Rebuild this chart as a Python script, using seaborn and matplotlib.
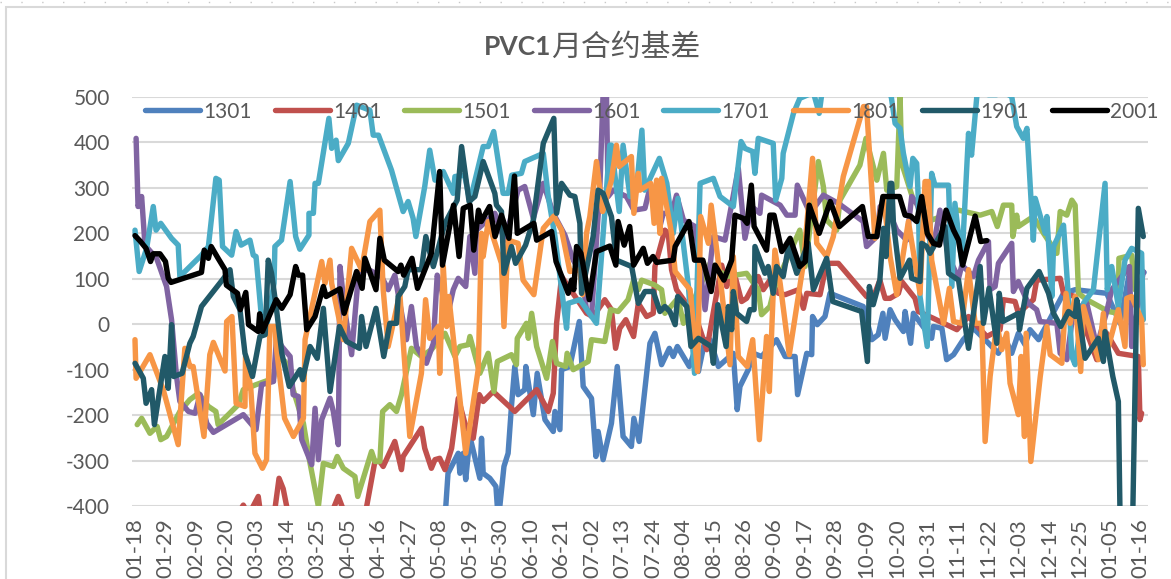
# %%
import pandas as pd
from matplotlib import pyplot as plt
from matplotlib.lines import Line2D
from matplotlib.patches import Rectangle
import seaborn as sns

# %% Data, (days since 01-18, basis)
tickLabels = ["01-18", "01-29", "02-09", "02-20", "03-03", "03-14", "03-25", "04-05", "04-16",
              "04-27", "05-08", "05-19", "05-30", "06-10", "06-21", "07-02", "07-13", "07-24",
              "08-04", "08-15", "08-26", "09-06", "09-17", "09-28", "10-09", "10-20", "10-31",
              "11-11", "11-22", "12-03", "12-14", "12-25", "01-05", "01-16"]
yTicks = [500, 400, 300, 200, 100, 0, -100, -200, -300, -400]

s1301 = [(110, -420), (112.2, -401), (113, -328), (116.7, -284), (117.3, -328), (118.5, -284), (119.4, -342),
         (120.9, -247), (124.5, -339), (125.1, -251), (125.7, -328), (128.1, -339), (130.3, -357), (130.8, -401),
         (131.7, -401), (133.2, -313), (134.7, -284), (135.9, -181), (137.1, -93), (138.3, -155), (140.7, -144),
         (141.1, -93), (143.8, -199), (145.2, -108), (148, -210), (151, -236), (151.6, -192), (153.4, -232),
         (154, -100), (157, -93), (160.4, 6), (161.8, -137), (164.8, -163), (166.4, -291), (167.2, -236),
         (169, -298), (172, -218), (174.1, -93), (176.2, -247), (179.2, -269), (180.1, -207), (182, -258),
         (185.9, -42), (187.7, -20), (190.1, -89), (192.9, -53), (194.3, -71), (195.8, -49), (200.1, -93),
         (201.6, -67), (203.4, -104), (205.8, -34), (207.6, -34), (210.6, -93), (216, -64), (217.4, -188),
         (218.4, -137), (221.4, -100), (223.2, -64), (226.2, -71), (231.6, -34), (234.7, -71), (238.3, -71),
         (239.2, -155), (242.5, -64), (244.3, -67), (244.6, 17), (246.3, -1), (249.1, 17), (250.9, 68),
         (262.9, 39), (266, -34), (268.3, -23), (270, 24), (270.8, -31), (272.6, 32), (274.4, 10), (277.4, -16),
         (278, 28), (280, -42), (281, 24), (287.6, -31), (288.2, -5), (291.3, -9), (293, -78), (295.5, -67),
         (299, -34), (302.7, -9), (307.5, -38), (311.7, -64), (314.1, -31), (316.5, -64), (318.9, -20),
         (321.3, -45), (323.1, -12), (326.2, -34), (329.2, -1), (335.2, 68), (339.4, 76), (350.8, 68),
         (355.6, 2), (359.2, 120), (364.3, 114)]

s1401 = [(28, -460), (36, -430), (39.1, -398), (41, -420), (44.5, -379), (45.4, -420), (50, -430), (52, -339),
         (53.5, -362), (54.9, -405), (60, -440), (70, -430), (73.4, -379), (75, -405), (80, -440), (83.6, -402),
         (86.6, -302), (88.4, -302), (89.6, -313), (93.8, -258), (96.2, -320), (96.8, -291), (103.4, -229),
         (104.6, -273), (107, -317), (108.3, -298), (110, -295), (111.9, -320), (114.3, -273), (116.7, -163),
         (119.1, -218), (122.1, -251), (124.3, -155), (125.7, -170), (129.3, -148), (137.1, -192), (145, -144),
         (149.2, -192), (151, -152), (152.2, 2), (154, 105), (163, 24), (165.4, 17), (169.6, 54), (172, 32),
         (173.5, -53), (175, -9), (177.2, 10), (180, -27), (181.7, 46), (184.7, 17), (187.1, 24), (187.7, 127),
         (191.3, 207), (192.5, 200), (193.7, 120), (195.5, 76), (199.8, 39), (202.8, 10), (206.4, -56),
         (211.8, 130), (213.6, 83), (216, 120), (219, 50), (220.8, 57), (225, 105), (226.8, 76), (229.2, 97),
         (232.3, 68), (234.7, 65), (239.5, 76), (241.3, 35), (242.5, 68), (247.3, 65), (249.7, 134), (253.9, 134),
         (264.1, 61), (267.1, 68), (268.9, 97), (270.8, 57), (272.6, 57), (275.6, 68), (276.8, 94), (281.6, 57),
         (282.8, 28), (288.2, 13), (296.7, -12), (300.9, 17), (307.5, -27), (312.3, -12), (313.5, 54), (317.7, 50),
         (318.9, 24), (324.3, 54), (325.5, 97), (334, 101), (335.2, 68), (339.4, 61), (342.4, 2), (347.2, -78),
         (350.8, -20), (355, -64), (362.2, -71), (362.8, -210), (363.4, -196)]

s1501 = [(0.8, -221), (2.4, -207), (5.4, -240), (8, -225), (9.3, -254), (11.4, -247), (16.2, -192), (19.8, -166),
         (22.9, -152), (26.5, -181), (29.2, -192), (30, -221), (33.7, -199), (37.3, -177), (39.1, -144), (43.7, -133),
         (50, -119), (51.1, -71), (54.2, -82), (57.1, -144), (60.8, -218), (63.2, -306), (66.2, -401), (68, -306),
         (71.6, -313), (73, -291), (75.2, -317), (79.4, -335), (80.4, -379), (85.4, -280), (86.6, -302), (88.4, -302),
         (89.4, -192), (92, -177), (94.4, -192), (96.2, -155), (99.8, -53), (103.4, -71), (107, -56), (111.9, -20),
         (115.5, -71), (117.3, -49), (120.3, -45), (120.9, -27), (124.5, -108), (127.5, -64), (129.6, -148),
         (130.8, -82), (135.9, -67), (137.7, -89), (138, -31), (141.3, 2), (142, -31), (143.2, 24), (145, -49),
         (148.6, -119), (150.7, -38), (152.2, -86), (155.5, -93), (156, -64), (158.2, -100), (163.6, -82),
         (164.8, -34), (169.6, -38), (171.7, 32), (174.4, 28), (178, 54), (180, 97), (181.7, 76), (182.9, 97),
         (187.4, 87), (190.1, 76), (191.3, 24), (196, 57), (198, 2), (207.6, 134), (213.6, 105), (220.8, 112),
         (225, 76), (226.2, 21), (229.2, 39), (231, 83), (240, 207), (241.9, 127), (246.7, 358), (248.5, 303),
         (249.7, 229), (253.3, 207), (254.5, 273), (261.7, 350), (263.9, 409), (267.8, 317), (270.2, 376),
         (271.4, 295), (275, 303), (276.2, 501), (276.8, 354), (281, 273), (288, 230), (297.3, 251), (305.1, 240),
         (309.3, 248), (311.3, 215), (313.5, 262), (316.5, 262), (316.9, 193), (318.3, 240), (318.9, 215),
         (324.3, 237), (328, 200), (332.8, 156), (334, 248), (336.4, 240), (338.2, 273), (339.4, 262), (340.6, 68),
         (343.6, 54), (351.4, 28), (355, 24), (355.2, 145), (359.8, 152), (361, 76)]

s1601 = [(0.4, 409), (1.1, 259), (2.4, 281), (3.6, 174), (7.8, 145), (11.4, 83), (13.2, 10), (15, -115), (16.2, -170),
         (19.3, -192), (21.7, -196), (23.5, -155), (25.9, -218), (28.3, -238), (39.1, -199), (43.7, -232),
         (45.7, -133), (50, -126), (51.1, -27), (53, -49), (56, -71), (57.1, -155), (59, -159), (60.2, -254),
         (63.8, -309), (65, -185), (66.2, -298), (67.4, -210), (70.4, -163), (71.6, -192), (73.4, -265), (74, 127),
         (75.8, 28), (78.2, -67), (80.6, 105), (81.8, 116), (84.3, 120), (89, 105), (91.4, 76), (93.8, 108),
         (95.6, 46), (98, -34), (99.8, 39), (101.6, -49), (105.2, -86), (107.7, -42), (109.1, 108), (110.7, 76),
         (112.5, 10), (114.9, 76), (116.7, 101), (119.4, 83), (120.9, 193), (122.7, 112), (123.3, 207), (129.9, 244),
         (133.5, 185), (138.3, 295), (140.7, 303), (143.8, 233), (147.4, 310), (151, 244), (155.2, 196), (158.2, 141),
         (161.2, 112), (163, 32), (164.8, 17), (167.8, 295), (169, 510), (170.2, 510), (170.8, 281), (172.6, 295),
         (177.4, 281), (180.1, 251), (184.1, 255), (186, 303), (189.5, 215), (190.7, 244), (193.7, 244), (195.5, 284),
         (198, 229), (202.2, 215), (205.8, 32), (208.8, 193), (213, 185), (217.8, 343), (220.2, 189), (222.6, 259),
         (225.6, 244), (226.2, 284), (232.9, 262), (235.3, 240), (238.3, 240), (239.1, 306), (243.7, 244),
         (248.5, 284), (253.9, 266), (262.9, 226), (264.1, 171), (267.8, 193), (269, 259), (271.4, 259), (275, 207),
         (278.6, 185), (280.4, 281), (282.2, 266), (285.8, 200), (288.2, 171), (290.6, 251), (293.7, 149),
         (297.3, 101), (298.5, 130), (302.7, 105), (304.5, 141), (308.1, 182), (308.7, 76), (310.5, 83), (311.7, 134),
         (316.5, 178), (317.1, 72), (318.9, 94), (322.5, 46), (325.5, 32), (326.7, 6), (332.8, 2), (334, -64),
         (336.4, -78), (338.8, 32), (343.6, 46), (347.2, -49), (350.8, 28), (352.6, 76), (359, 127), (359.8, -49),
         (364, 116)]

s1701 = [(0, 207), (1.5, 116), (4.2, 167), (6.6, 259), (7.6, 207), (9.3, 222), (13.2, 189), (15.6, 174), (16.2, 105),
         (24, 152), (26.5, 171), (29.2, 321), (30.4, 317), (31.6, 171), (34.9, 152), (36.5, 204), (38.3, 174),
         (41.5, 185), (42.7, 152), (43.7, 149), (45.4, 32), (47.3, -12), (50.2, 90), (50.5, 171), (52.9, 185),
         (56, 314), (58, 193), (59.5, 165), (62.8, 196), (62.8, 244), (64.4, 244), (65, 310), (66.2, 310), (70, 453),
         (71, 387), (72.6, 405), (73.4, 360), (77, 398), (80, 482), (84.8, 471), (86, 416), (87.9, 416), (92.6, 339),
         (96.8, 248), (98.6, 270), (100.4, 233), (101.4, 193), (104.6, 303), (106.4, 383), (108.3, 317), (111.3, 336),
         (114.9, 288), (115.5, 325), (119, 328), (120.9, 270), (125.7, 391), (127.5, 391), (129.5, 424), (132.9, 288),
         (134.7, 288), (136, 328), (139.5, 332), (140.7, 358), (147.4, 376), (149.2, 281), (151.6, 193), (155.8, -9),
         (156.4, 46), (160.6, 54), (166.6, 2), (171.4, 394), (172, 394), (174.8, 248), (176.2, 394), (178.7, 281),
         (181, 295), (183, 427), (184, 295), (189.3, 365), (192, 310), (194.3, 200), (196, 277), (199.8, 83),
         (202, -108), (204, 310), (208.8, 321), (211.2, 281), (216, 259), (218.8, 402), (220.2, 387), (223, 380),
         (223.8, 332), (225, 409), (230.4, 398), (231.3, 273), (233.5, 321), (234, 376), (237.7, 464), (240, 497),
         (244.9, 510), (247, 464), (248, 510), (250, 520), (268, 540), (273, 501), (274.4, 442), (276.2, 431),
         (277.4, 376), (279.8, 303), (280.8, 365), (282.2, 354), (282.8, 273), (283.4, 61), (286, -49), (287.6, 332),
         (288.8, 306), (293.7, 306), (294.9, 83), (296, 266), (298.5, 134), (300.9, 420), (302, 372), (303.9, 501),
         (305, 540), (308, 505), (311, 505), (313, 540), (315.3, 505), (316.5, 501), (318.3, 435), (320.7, 409),
         (322, 431), (324.3, 185), (325, 277), (328.6, 200), (329.2, 237), (331, 61), (331.6, 171), (335.2, 218),
         (337.6, 2), (338.2, -71), (339.4, -89), (342.4, 46), (346, 76), (350.2, 310), (351, 76), (352.6, 127),
         (355, 39), (357.4, 141), (359.8, 167), (363.4, 156), (364, 10)]

s1801 = [(0, -34), (0.4, -119), (5.4, -67), (10.2, -144), (15.6, -265), (18, -53), (19.8, -93), (21, -93), (24.9, -247),
         (27, -67), (28.3, -40), (32.5, -103), (33.1, 6), (35, 17), (36.5, -174), (39.7, -181), (39.9, -71),
         (41.8, -141), (43.3, -284), (46, -317), (47.5, -298), (48.7, -5), (50.5, -5), (51, -49), (54, -207),
         (57.2, -247), (60.8, -207), (61.4, -34), (67.4, 138), (68.6, 90), (70.4, 141), (71, 90), (75.2, -34),
         (78.2, 167), (81.8, 120), (84.8, 226), (88.4, 251), (89.6, 76), (91.4, -49), (95.6, 68), (99.2, -247),
         (103.4, -108), (104.9, 54), (106.4, -31), (109.5, -5), (110, -108), (111.3, 127), (112.5, -5), (113.3, 61),
         (119.4, -284), (123.9, -100), (125.1, 200), (125.7, 149), (127.5, 226), (132.3, 134), (133.2, -5),
         (134.7, 185), (138.3, 178), (140.1, 97), (144, 65), (147.4, 211), (151.2, 238), (154, 207), (157, 116),
         (160.6, 120), (161.6, 65), (163, 200), (164.2, 237), (166.6, 358), (168.8, 248), (172, 317), (173.8, 394),
         (174.8, 347), (179.2, 369), (180.1, 244), (181.7, 332), (182.3, 295), (186.2, 310), (187.4, 222),
         (188.3, 317), (189.5, 200), (190.1, 321), (193.7, 200), (195, 116), (200.4, 76), (203.1, -104), (204.2, 237),
         (207, 178), (208, 262), (211.2, 105), (214.8, -89), (216, 149), (217.8, -71), (221, -93), (223, -34),
         (225.4, -254), (228, -27), (229, -148), (231, 163), (232.9, 90), (236.2, -67), (241.3, 134), (244.6, 365),
         (246.1, 178), (249.7, 149), (252.1, 193), (255.7, 325), (263, 479), (264.1, 479), (267.1, 189), (270.2, 281),
         (272.6, 149), (275, 65), (279.2, 226), (283.4, 68), (285.2, 314), (286.4, 314), (287.6, 141), (289.4, 83),
         (291.9, 2), (294, 79), (295.5, 6), (298.5, 2), (300.9, 120), (303.3, 2), (305.7, 2), (306.9, -258),
         (308.7, -115), (311.1, 2), (312.9, -56), (314.7, -20), (315.9, -130), (318.9, -199), (319.9, -71),
         (321.1, -247), (321.7, -20), (323.4, -302), (326.8, -115), (329.2, -5), (330.4, -67), (334.6, -86),
         (336.1, 68), (337.6, 2), (339.4, 61), (341.4, -104), (342.4, 39), (347.8, -78), (349.6, 24), (350.8, -64),
         (355, 32), (357.4, -49), (358, 57), (359.8, 61), (363.4, 10), (364, -89)]

s1901 = [(0, -86), (3, -119), (4, -174), (6, -144), (7, -221), (10.8, -71), (12, -141), (13.2, -1), (14, -115),
         (17, -108), (19.8, -42), (21, -27), (24, 39), (32, 101), (34.3, 120), (35.5, 61), (37.9, 32), (39.7, -64),
         (42.4, -115), (45.1, -27), (47, -23), (48.1, 141), (49.3, 112), (51.1, 32), (53, -64), (55.7, -137),
         (59.6, -100), (60.5, -122), (63.2, -49), (65.8, -75), (68, 35), (70.4, -148), (73.8, -5), (76.4, -38),
         (81, -53), (81.8, 17), (83.4, -49), (87, 35), (89.8, -71), (92, 2), (94.4, 2), (95, 61), (97.4, 83),
         (98.6, 120), (103.4, 120), (105, 193), (107.7, 127), (111.9, 222), (116.3, 273), (117.9, 391), (120.6, 270),
         (122.7, 281), (125.7, 358), (129.9, 288), (130.5, 262), (132.3, 248), (133.2, 112), (135.9, 171),
         (137.4, 134), (141, 174), (143.8, 229), (147.4, 398), (151.2, 453), (152.2, 244), (154, 310), (157, 284),
         (158.8, 281), (160.6, 222), (161.2, 68), (165.4, 193), (167.2, 295), (169, 288), (172, 237), (173.8, 141),
         (179.3, 127), (181.7, 46), (184.1, 72), (187.1, 72), (189.5, 28), (191.3, 39), (193.1, 28), (195, -1),
         (195.9, 61), (199.2, 39), (200.7, -49), (203.4, -31), (208, -49), (208.8, -86), (210.4, 43), (213.4, -49),
         (214.2, 39), (215.4, -12), (216, 72), (217.2, 24), (220.8, 6), (222, 32), (223.5, 32), (223.8, 171),
         (227.4, 112), (228.6, 127), (230.4, 68), (231.6, 127), (234, 105), (235.9, 171), (238.9, 112), (243, 178),
         (244.9, 76), (249.7, 145), (251.9, 50), (262.3, 28), (264.4, -82), (265.1, 83), (266.5, 43), (268.9, 97),
         (270.2, 211), (271.1, 149), (272.6, 310), (273.2, 310), (273.8, 222), (276.2, 101), (279.6, 141),
         (280.4, 101), (283.4, 94), (284, 178), (285.8, 171), (287, 156), (292.4, 215), (293.7, 112), (297.3, 97),
         (300.9, -53), (305.1, 127), (306.3, 2), (308.3, 79), (311.1, -42), (312, 68), (313.3, 6), (318.9, 24),
         (319.3, -12), (322, 79), (326.4, 116), (329.8, 68), (331.6, 24), (334.2, -5), (337, 28), (339.4, 17),
         (340, 54), (343, -75), (347.8, -31), (349.6, -82), (350.2, -16), (353, -115), (355, -170), (355.6, -420),
         (360.2, -420), (362.2, 255), (364, 193)]

s2001 = [(0, 195), (2, 182), (4, 167), (5.6, 138), (6.6, 155), (9, 155), (11, 138), (12, 101), (13, 92), (24, 114),
         (25, 163), (26.5, 145), (27.5, 171), (30, 145), (32.5, 120), (33, 86), (37, 68), (38, 32), (40, 70), (41, -1),
         (44.5, -16), (45, 23), (46, -16), (51, 54), (53, 35), (56, 65), (58, 127), (59, 108), (60.5, 108), (62, -12),
         (65, 17), (68, 83), (69, 61), (74, 78), (75.5, 24), (80, 116), (82, 79), (83, 145), (87, 76), (88.4, 189),
         (90, 141), (95, 116), (96, 130), (97, 108), (100, 145), (102, 79), (107, 156), (110, 336), (111, 130),
         (115, 262), (117, 149), (118.5, 255), (121, 262), (122.3, 163), (124, 251), (125, 226), (128, 259), (130, 193),
         (132.3, 240), (135, 189), (137, 326), (138, 200), (144, 222), (145, 185), (150.4, 204), (152, 138),
         (156.4, 68), (157.6, 97), (158.4, 76), (159.4, 171), (161, 156), (164, 54), (166.6, 160), (171.4, 172),
         (173.6, 130), (174.4, 226), (176.6, 174), (178.6, 215), (180, 130), (183.5, 167), (185, 134), (187, 149),
         (188.3, 136), (194.3, 141), (195, 171), (200, 226), (202, 141), (205, 141), (208, 72), (209.4, 130),
         (212.6, 97), (215.4, 141), (216.6, 240), (219.6, 233), (221, 222), (222.5, 306), (223.5, 215), (228, 163),
         (229.2, 240), (230.7, 240), (233.5, 160), (236.5, 189), (240, 127), (242, 138), (243.4, 262), (247, 200),
         (251, 270), (254.3, 215), (262.6, 259), (264.7, 193), (267.8, 193), (270, 281), (276, 281), (278, 240),
         (280, 238), (282.2, 226), (284, 281), (286, 200), (288.2, 178), (290.4, 174), (292.8, 251), (295.5, 207),
         (297.3, 185), (298.8, 130), (303.3, 238), (305.3, 182), (307.5, 184)]

seriesNames = ["1301", "1401", "1501", "1601", "1701", "1801", "1901", "2001"]
seriesData = [s1301, s1401, s1501, s1601, s1701, s1801, s1901, s2001]
colors = ["#4F81BD", "#C0504D", "#9BBB59", "#8064A2", "#4BACC6", "#F79646", "#215968", "#000000"]

# %% Long table for seaborn
frames = []
for name, pts in zip(seriesNames, seriesData):
    frame = pd.DataFrame(pts, columns=["day", "basis"])
    frame["series"] = name
    frames.append(frame)
data = pd.concat(frames, ignore_index=True)

# %% Plot
sns.set_theme(style="white")
plt.rcParams["font.family"] = ["Lato", "Noto Sans CJK SC", "DejaVu Sans"]
textColor = "#595959"
gridColor = "#D9D9D9"
lineW = 3.9

fig = plt.figure(figsize=(11.71, 5.79), dpi=100)
ax = fig.add_axes([132/1171, 1 - 506/579, (1148 - 132)/1171, (506 - 97)/579])

sns.lineplot(data=data, x="day", y="basis", hue="series", hue_order=seriesNames, palette=colors,
             estimator=None, sort=False, linewidth=lineW, ax=ax)
for line in ax.get_lines():
    line.set_solid_joinstyle("round")
    line.set_solid_capstyle("round")

ax.set_xlim(-1.08, 365.7)
ax.set_ylim(-400, 500)
ax.set_xticks(range(0, 364, 11))
ax.set_xticklabels(tickLabels, rotation=90, fontsize=16, color=textColor)
ax.set_yticks(yTicks)
ax.set_yticklabels([str(v) for v in yTicks], fontsize=15, color=textColor)
ax.tick_params(axis="x", length=0, pad=9)
ax.tick_params(axis="y", length=0, pad=16)
ax.set_xlabel("")
ax.set_ylabel("")
ax.set_axisbelow(True)
ax.grid(axis="y", color=gridColor, linewidth=1.5)
ax.grid(axis="x", visible=False)
sns.despine(ax=ax, left=True, bottom=True)

leg = ax.legend(ncol=8, loc="center left", bbox_to_anchor=(0.0128, 0.964), frameon=False, fontsize=15,
                handlelength=2.65, handletextpad=0.15, columnspacing=1.09, borderpad=0, borderaxespad=0,
                labelcolor=textColor)
leg.set_zorder(5)
for h in leg.get_lines():
    h.set_linewidth(lineW)
    h.set_solid_capstyle("round")

# title, latin part is bold and the chinese part is not
fig.text(484/1171, 1 - 47/579, "PVC1", ha="left", va="center", fontsize=19, color=textColor, fontweight="bold")
fig.text(551/1171, 1 - 47/579, "月合约基差", ha="left", va="center", fontsize=21.5, color=textColor)

# chart frame and sheet dots
fig.add_artist(Rectangle((6/1171, -0.1), 1.1, 1.1 - 7/579, transform=fig.transFigure, fill=False,
                         edgecolor=gridColor, linewidth=1.5))
fig.add_artist(Line2D([0, 1], [1 - 2/579, 1 - 2/579], color="#C8C8C8", linewidth=1, linestyle=(0, (1, 14))))

fig.savefig("out.png", dpi=100)
plt.close(fig)
